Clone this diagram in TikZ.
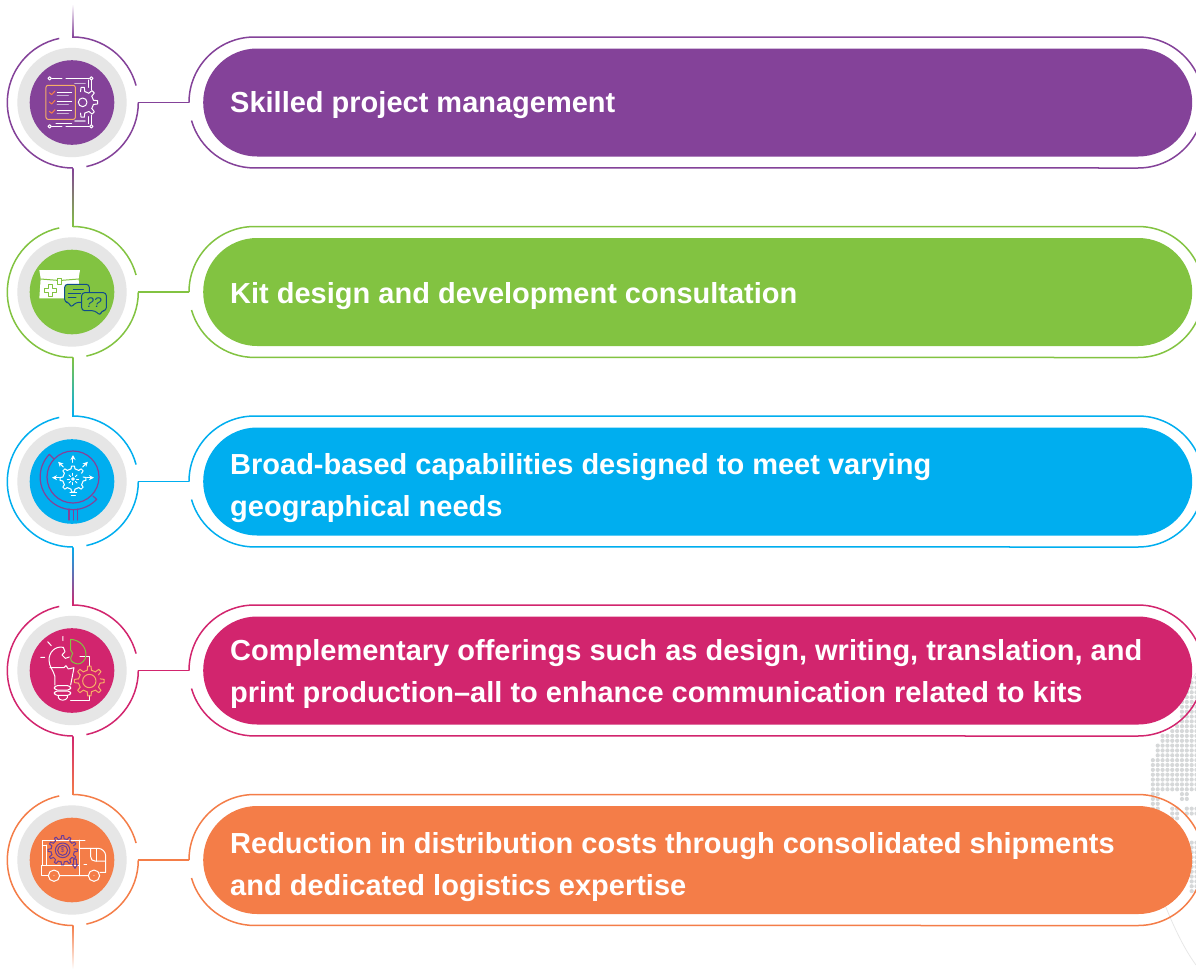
\documentclass[tikz,border=0pt]{standalone}
\usepackage{fontspec}
\setmainfont{Liberation Sans}
\usetikzlibrary{calc,arrows.meta}
\definecolor{cPur}{HTML}{844299}
\definecolor{cGrn}{HTML}{82C341}
\definecolor{cBlu}{HTML}{00AEEF}
\definecolor{cPnk}{HTML}{D2256E}
\definecolor{cOrg}{HTML}{F47D48}
\definecolor{cGry}{HTML}{E6E6E6}
\definecolor{cDot}{HTML}{D6D8D9}
\definecolor{cNavy}{HTML}{0F4C8A}
\definecolor{cAmb}{HTML}{F6AE66}
\definecolor{cLav}{HTML}{C9B3D6}
\definecolor{cViol}{HTML}{6A3D9A}
\tikzset{
  ring/.style={line width=1.5pt,color=#1},
  disc/.style={circle,fill=#1,minimum size=84.6pt,inner sep=0pt,outer sep=0pt},
  halo/.style={circle,fill=cGry,minimum size=109.4pt,inner sep=0pt,outer sep=0pt},
  pill/.style={rectangle,fill=#1,rounded corners=53.9pt,minimum width=989pt,minimum height=108pt,inner sep=0pt,anchor=west},
  label/.style={text=white,anchor=west,align=left,inner sep=0pt,font=\fontsize{29}{42}\selectfont\bfseries},
  ico/.style={line width=1pt,line join=round,line cap=round,color=#1},
  ico/.default=white
}
% gear teeth: centre, inner r, outer r, first angle, step, last angle
\newcommand{\GearTeeth}[6]{%
  \pgfmathsetmacro{\gw}{#5*0.25}%
  \pgfmathsetmacro{\gn}{#4+#5}%
  \foreach \a in {#4,\gn,...,#6}{%
    \pgfmathsetmacro{\pa}{\a-\gw}\pgfmathsetmacro{\pb}{\a-\gw*0.55}%
    \pgfmathsetmacro{\pc}{\a+\gw*0.55}\pgfmathsetmacro{\pd}{\a+\gw}%
    \pgfmathsetmacro{\pe}{\a+#5-\gw}%
    \draw ($(#1)+(\pa:#2)$) -- ($(#1)+(\pb:#3)$) -- ($(#1)+(\pc:#3)$) -- ($(#1)+(\pd:#2)$);
    \ifdim\a pt<#6pt \draw ($(#1)+(\pd:#2)$) arc[start angle=\pd,end angle=\pe,radius=#2];\fi
  }}
% one row: name, colour, cy
\newcommand{\RowFrame}[3]{%
  \coordinate (c#1) at (72,#3);
  \node[halo] (h#1) at (c#1) {};
  \node[disc=#2] (d#1) at (c#1) {};
  \node[pill=#2] (p#1) at (203,#3) {};
  \coordinate (t#1) at (72.8,#3-65.5);
  \coordinate (b#1) at (72.8,#3+65.5);
  \coordinate (r#1) at (138.3,#3);
  \coordinate (l#1) at (189,#3);
  \draw[ring=#2] (t#1) arc[start angle=-90,end angle=-15,radius=65.5];
  \draw[ring=#2] (r#1) arc[start angle=0,end angle=78,radius=65.5];
  \draw[ring=#2] (b#1) arc[start angle=90,end angle=258,radius=65.5];
  \draw[ring=#2] (r#1) -- (l#1);
  \draw[ring=#2] (l#1) arc[start angle=180,end angle=270,radius=65.5] -- (1138,#3-65.5) arc[start angle=270,end angle=360,radius=65.5];
  \draw[ring=#2] (191.5,#3+18) arc[start angle=164,end angle=90,radius=65.5] -- (1138,#3+65.5) arc[start angle=90,end angle=0,radius=65.5];
}
\begin{document}
\begin{tikzpicture}[x=1pt,y=-1pt]
\path[use as bounding box] (0,0) rectangle (1196,969);
\clip (0,0) rectangle (1196,969);
\fill[white] (0,0) rectangle (1196,969);

% globe
\foreach \xi in {0,...,10}{
  \foreach \yi in {0,...,48}{
    \pgfmathsetmacro{\X}{1148+\xi*4.85}
    \pgfmathsetmacro{\Y}{668+\yi*4.85}
    \pgfmathtruncatemacro{\ok}{
      (((\X-1310)/10)^2+((\Y-790)/10)^2<256) &&
      ( (\Y<793 && ( ((\X-1138)/10)^2+((\Y-670.5)/10)^2>46 || \X>1188)) ||
        (\X>1180 && \X<1188 && \Y<803) ||
        (\X<1161 && \Y<813) ||
        (\X>1170 && \X<1179 && \Y>807 && \Y<822) ||
        (\X>1186 && \Y>807 && \Y<816) ||
        (\X>1188 && \Y>842 && \Y<895)) ? 1 : 0}
    \ifnum\ok=1 \fill[cDot] (\X,\Y) circle[radius=2.1]; \fi
  }
}
\draw[cGry,line width=0.7pt] (1165,905) .. controls (1175,930) and (1185,950) .. (1196,965);
\draw[cGry,line width=0.7pt] (1187,687) -- (1196,673);

\RowFrame{A}{cPur}{102.5}
\RowFrame{B}{cGrn}{292}
\RowFrame{C}{cBlu}{481.5}
\RowFrame{D}{cPnk}{670.5}
\RowFrame{E}{cOrg}{860}

% vertical connectors
\coordinate (top) at (72.8,4);
\coordinate (bot) at (72.8,969);
\path[top color=white,bottom color=cPur] ($(top)-(.75,0)$) rectangle ($(tA)+(.75,0)$);
\path[top color=cPur,bottom color=cGrn] ($(bA)-(.75,0)$) rectangle ($(tB)+(.75,0)$);
\path[top color=cGrn,bottom color=cBlu] ($(bB)-(.75,0)$) rectangle ($(tC)+(.75,0)$);
\path[top color=cBlu,bottom color=cPnk] ($(bC)-(.75,0)$) rectangle ($(tD)+(.75,0)$);
\path[top color=cPnk,bottom color=cOrg] ($(bD)-(.75,0)$) rectangle ($(tE)+(.75,0)$);
\path[top color=cOrg,bottom color=white] ($(bE)-(.75,0)$) rectangle ($(bot)+(.75,0)$);

% labels
\node[label] (lblA) at (230,105) {Skilled project management};
\node[label] (lblB) at (230,296.5) {Kit design and development consultation};
\node[label] (lblC) at (230,488) {Broad-based capabilities designed to meet varying\\geographical needs};
\node[label] (lblD) at (230,674) {Complementary offerings such as design, writing, translation, and\\print production–all to enhance communication related to kits};
\node[label] (lblE) at (230,867) {Reduction in distribution costs through consolidated shipments\\and dedicated logistics expertise};

% icon 1
\begin{scope}[scale=1/3]
 \begin{scope}[ico]
  \foreach \p in {(149,235),(274,235),(149,379),(274,379)} \draw \p circle[radius=5];
  \draw (155,235)--(186,235) (198,235)--(268,235) (155,379)--(186,379) (198,379)--(268,379);
  \draw (168,371)--(215,371) (274,241)--(274,270) (274,345)--(274,373) (265,240)--(265,262) (265,350)--(265,371);
  \draw (172,278)--(215,278) (172,306)--(215,306) (172,333)--(215,333);
  \draw[line width=1.6pt,cLav] (225,251)--(255,251) (225,363)--(255,363) (172,287)--(205,287) (172,314)--(205,314) (172,341)--(205,341);
  \coordinate (g1) at (248,307);
  \draw (g1) circle[radius=13];
  \GearTeeth{g1}{33}{45}{-90}{45}{90}
 \end{scope}
 \draw[ico=cAmb,rounded corners=2pt] (138,256) rectangle (226,358);
 \foreach \y in {278,306,334} \draw[ico=cOrg] (148,\y)--(155,\y+6)--(165,\y-5);
\end{scope}

% icon 2
\begin{scope}[shift={(0,215)},scale=1/3]
 \fill[white] (118,165)--(240,165)--(236,190)--(238,250)--(118,250)--(122,190)--cycle;
 \draw[ico=cGrn] (122,192)--(172,196) (186,196)--(236,192);
 \draw[ico=cGrn,fill=white] (172,190) rectangle (186,208);
 \draw[ico=cGrn] (146,208)--(158,208)--(158,220)--(170,220)--(170,232)--(158,232)--(158,244)--(146,244)--(146,232)--(134,232)--(134,220)--(146,220)--cycle;
 \draw[ico=cNavy,fill=cGrn,rounded corners=3pt] (194,208)--(268,208)--(268,262)--(228,262)--(212,278)--(208,262)--(194,262)--cycle;
 \draw[ico=cNavy] (220,222)--(250,222) (205,234)--(242,234) (205,246)--(228,246);
 \draw[ico=cNavy,fill=cGrn,rounded corners=3pt] (245,233)--(319,233)--(319,287)--(304,287)--(301,302)--(285,287)--(245,287)--cycle;
 \node[text=cNavy,font=\fontsize{14}{14}\selectfont\itshape,inner sep=0pt] (qq) at (282,262) {??};
\end{scope}

% icon 3
\begin{scope}[shift={(0,405)},scale=1/3]
 \coordinate (g3) at (219,222);
 \begin{scope}[ico]
  \GearTeeth{g3}{31}{39}{0}{45}{315}
  \draw (g3) circle[radius=4];
  \foreach \a in {0,45,...,315} \draw ($(g3)+(\a:11)$)--($(g3)+(\a:17)$);
  \draw (210,262)--(230,262) (214,270)--(226,270);
  \foreach \a/\x/\y in {-90/219/172,-135/190/186,-45/248/186,180/178/218,0/260/218}
    \draw[-{Stealth[length=5pt,width=5pt]}] (\x,\y)--++(\a:22);
 \end{scope}
 \begin{scope}[ico=cPur,line width=1.2pt]
  \draw (219,216) circle[radius=78];
  \draw (161,161)--(148,148) arc[start angle=224,end angle=43,radius=98] --(279,273);
  \draw (207,312)--(207,345) (220,314)--(220,345) (233,312)--(233,345);
 \end{scope}
\end{scope}

% icon 4
\begin{scope}[shift={(0,595)},scale=1/3]
 \begin{scope}[ico]
  \draw (190,157) .. controls (165,152) and (147,172) .. (147,195) .. controls (147,215) and (160,225) .. (165,245) -- (165,270);
  \draw (190,157)--(195,170)--(186,180)--(196,190)--(208,186);
  \draw (150,218)--(192,218)--(198,212)--(205,222)--(222,218)--(212,270);
  \draw[rounded corners=3pt] (163,272) rectangle (212,285);
  \draw[rounded corners=3pt] (163,288) rectangle (212,301);
  \draw (175,301)--(175,308) .. controls (178,318) and (198,318) .. (202,308) -- (202,301);
  \draw (122,187)--(134,187) (143,140)--(154,152) (189,124)--(189,137);
  \draw (240,185)--(268,185)--(268,212) (268,302)--(268,315)--(212,315);
 \end{scope}
 \draw[ico=cGrn] (212,133) .. controls (240,135) and (258,155) .. (258,180) .. controls (258,195) and (245,207) .. (233,207) .. controls (222,205) and (212,200) .. (212,190) -- (218,175) -- (212,165) -- cycle;
 \coordinate (g4) at (268,258);
 \begin{scope}[ico=cAmb]
  \draw (g4) circle[radius=20];
  \GearTeeth{g4}{33}{45}{0}{45}{315}
 \end{scope}
\end{scope}

% icon 5
\begin{scope}[shift={(0,785)},scale=1/3]
 \begin{scope}[ico]
  \draw (128,242)--(128,165)--(255,165) (140,180)--(128,180) (140,180)--(140,242);
  \draw (238,165)--(238,272);
  \draw (145,272)--(124,272)--(124,242)--(238,242);
  \draw (180,272)--(265,272) (300,262)--(317,262)--(317,212) .. controls (317,200) and (305,190) .. (295,190) -- (238,190);
  \draw (272,190)--(272,215) .. controls (272,224) and (278,228) .. (285,228) -- (317,228);
  \draw (290,190)--(290,228);
  \draw (162,272) circle[radius=17] (282,272) circle[radius=17];
  \fill (162,272) circle[radius=1.5] (282,272) circle[radius=1.5];
  \draw (252,238)--(260,238);
 \end{scope}
 \coordinate (g5) at (188,196);
 \begin{scope}[ico=cViol]
  \GearTeeth{g5}{35}{44}{0}{30}{330}
  \draw (g5) circle[radius=22] (g5) circle[radius=15];
  \node[text=cViol,font=\fontsize{7}{7}\selectfont,inner sep=0pt] (dol) at (g5) {\$};
  \draw (221,222)--(229,222)--(229,238)--(233,238)--(225,250)--(217,238)--(221,238)--cycle;
 \end{scope}
\end{scope}
\end{tikzpicture}
\end{document}
